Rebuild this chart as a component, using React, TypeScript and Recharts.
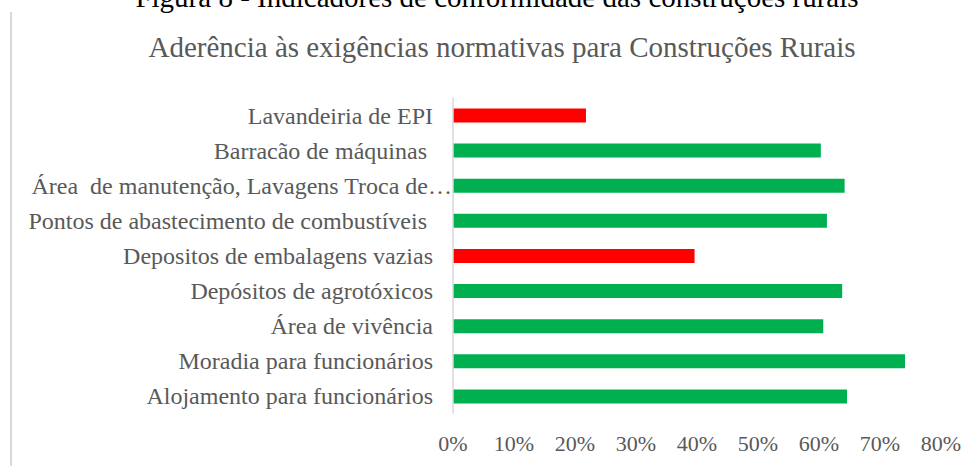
import { BarChart, Bar, XAxis, YAxis, Cell } from 'recharts';

const categorias = [
  'Lavandeiria de EPI',
  'Barracão de máquinas ',
  'Área  de manutenção, Lavagens Troca de…',
  'Pontos de abastecimento de combustíveis ',
  'Depositos de embalagens vazias',
  'Depósitos de agrotóxicos',
  'Área de vivência',
  'Moradia para funcionários',
  'Alojamento para funcionários',
];
const aderencia = [21.8, 60.3, 64.2, 61.3, 39.6, 63.8, 60.7, 74.1, 64.6];
const ticksX = [0, 10, 20, 30, 40, 50, 60, 70, 80];

const legenda = 'Figura 8 - Indicadores de conformidade das construções rurais';
const titulo = 'Aderência às exigências normativas para Construções Rurais';

const fonte = '"Liberation Serif", "Times New Roman", serif';
const cinza = '#595959';

const dados = categorias.map((nome, i) => ({ nome, valor: aderencia[i] }));

// cor conforme o nível de aderência (abaixo de 50% fica vermelho)
const corBarra = (v: number) => (v < 50 ? '#FF0000' : '#00B050');

const TickCategoria = (props: any) => {
  const { x, y, payload } = props;
  const truncado = String(payload.value).endsWith('…');
  return (
    <text
      x={truncado ? x + 19 : x}
      y={y}
      dy="0.355em"
      textAnchor="end"
      fill={cinza}
      fontSize={24}
      fontFamily={fonte}
      style={{ whiteSpace: 'pre' }}
    >
      {payload.value}
    </text>
  );
};

export default function App() {
  return (
    <div style={{ position: 'absolute', left: 0, top: 0, width: 976, height: 466, background: '#fff' }}>
      <svg width={976} height={466} style={{ position: 'absolute', left: 0, top: 0 }}>
        <text x={497} y={7} textAnchor="middle" fontSize={29} fontFamily={fonte} fill="#000">
          {legenda}
        </text>
        <text x={502} y={57} textAnchor="middle" fontSize={29} fontFamily={fonte} fill={cinza}>
          {titulo}
        </text>
        <line x1={11} y1={12} x2={11} y2={466} stroke="#d9d9d9" strokeWidth={2} />
      </svg>
      <div style={{ position: 'absolute', left: 0, top: 0 }}>
        <BarChart
          width={976}
          height={466}
          layout="vertical"
          data={dados}
          margin={{ top: 97.5, right: 35, bottom: 22.5, left: 0 }}
        >
          <XAxis
            type="number"
            domain={[0, 80]}
            ticks={ticksX}
            tickFormatter={(v) => `${v}%`}
            axisLine={false}
            tickLine={false}
            tickSize={0}
            tickMargin={22}
            height={30}
            tick={{ fill: cinza, fontSize: 22, fontFamily: fonte }}
          />
          <YAxis
            type="category"
            dataKey="nome"
            width={453}
            axisLine={{ stroke: '#d9d9d9', strokeWidth: 1.5 }}
            tickLine={false}
            tickSize={0}
            tickMargin={20}
            interval={0}
            tick={<TickCategoria />}
          />
          <Bar dataKey="valor" barSize={14} isAnimationActive={false}>
            {dados.map((d, i) => (
              <Cell key={i} fill={corBarra(d.valor)} />
            ))}
          </Bar>
        </BarChart>
      </div>
    </div>
  );
}
